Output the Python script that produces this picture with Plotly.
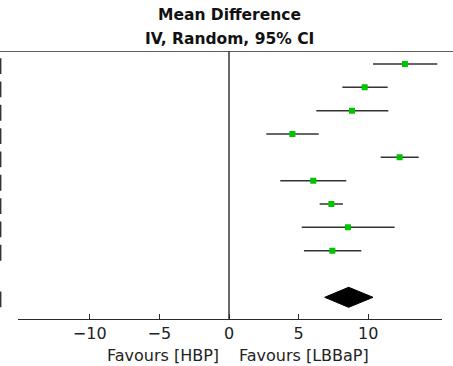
import plotly.graph_objects as go

# Study-level mean differences and 95% CI
md = [12.63, 9.74, 8.83, 4.55, 12.25, 6.05, 7.35, 8.54, 7.42]
ci_lo = [10.34, 8.14, 6.27, 2.68, 10.89, 3.68, 6.51, 5.22, 5.38]
ci_hi = [14.95, 11.39, 11.44, 6.44, 13.62, 8.42, 8.18, 11.89, 9.50]
rows = [1, 2, 3, 4, 5, 6, 7, 8, 9]

# Pooled estimate
pooled_md = 8.59
pooled_lo = 6.87
pooled_hi = 10.34
pooled_row = 11

tick_vals = [-10, -5, 0, 5, 10]
tick_text = ["\u221210", "\u22125", "0", "5", "10"]

FONT = "DejaVu Sans"
DARK = "#2a2a2a"

fig = go.Figure()

# CI lines
lx, ly = [], []
for r, lo, hi in zip(rows, ci_lo, ci_hi):
    lx += [lo, hi, None]
    ly += [r, r, None]
fig.add_trace(go.Scatter(x=lx, y=ly, mode="lines",
                         line=dict(color="#333333", width=1.5),
                         hoverinfo="skip", showlegend=False))

# point estimates
fig.add_trace(go.Scatter(x=md, y=rows, mode="markers",
                         marker=dict(symbol="square", size=6, color="#00c400",
                                     line=dict(width=0)),
                         showlegend=False))

# pooled diamond
h = 0.43
fig.add_trace(go.Scatter(
    x=[pooled_lo, pooled_md, pooled_hi, pooled_md, pooled_lo],
    y=[pooled_row, pooled_row - h, pooled_row, pooled_row + h, pooled_row],
    mode="lines", fill="toself", fillcolor="black",
    line=dict(color="black", width=1), showlegend=False))

y_top = 0.443
y_bot = 11.93

shapes = []
# top rule across whole width
shapes.append(dict(type="line", xref="paper", yref="y", x0=0, x1=1, y0=y_top, y1=y_top,
                   line=dict(color=DARK, width=1.6)))
# line of no effect
shapes.append(dict(type="line", xref="x", yref="y", x0=0, x1=0, y0=y_top, y1=y_bot,
                   line=dict(color=DARK, width=1.4)))
# clipped table marks at the left edge
for r in rows + [pooled_row]:
    shapes.append(dict(type="rect", xref="paper", yref="y", x0=0, x1=1.4 / 453,
                       y0=r - 0.25, y1=r + 0.43, fillcolor="#333333", line=dict(width=0)))
shapes.append(dict(type="rect", xref="paper", yref="y", x0=0, x1=1.4 / 453,
                   y0=-0.33, y1=0.2, fillcolor="#777777", line=dict(width=0)))

annotations = [
    dict(text="<b>Mean Difference</b>", xref="paper", yref="paper", x=229 / 453, y=(319 - 15) / 268,
         showarrow=False, xanchor="center", yanchor="middle",
         font=dict(family=FONT, size=15.5, color="#111111")),
    dict(text="<b>IV, Random, 95% CI</b>", xref="paper", yref="paper", x=229 / 453, y=(319 - 39) / 268,
         showarrow=False, xanchor="center", yanchor="middle",
         font=dict(family=FONT, size=15.5, color="#111111")),
    dict(text="Favours [HBP]", xref="paper", yref="paper", x=221 / 453, y=(319 - 355) / 268,
         showarrow=False, xanchor="right", yanchor="middle",
         font=dict(family=FONT, size=16, color="#222222")),
    dict(text="Favours [LBBaP]", xref="paper", yref="paper", x=237 / 453, y=(319 - 355) / 268,
         showarrow=False, xanchor="left", yanchor="middle",
         font=dict(family=FONT, size=16, color="#222222")),
]

fig.update_layout(
    width=453, height=366,
    margin=dict(l=0, r=0, t=51, b=47),
    paper_bgcolor="white", plot_bgcolor="white",
    showlegend=False,
    shapes=shapes, annotations=annotations,
    xaxis=dict(domain=[17.7 / 453, 441.7 / 453], range=[-15.17, 15.27],
               showgrid=False, zeroline=False, showline=True, linecolor=DARK, linewidth=1.4,
               ticks="inside", ticklen=5, tickwidth=1.4, tickcolor=DARK,
               tickvals=tick_vals, ticktext=tick_text,
               tickfont=dict(family=FONT, size=16, color="#222222")),
    yaxis=dict(range=[y_bot, y_top], showgrid=False, zeroline=False, showline=False,
               showticklabels=False, ticks=""),
)

fig.write_html("out.html")
